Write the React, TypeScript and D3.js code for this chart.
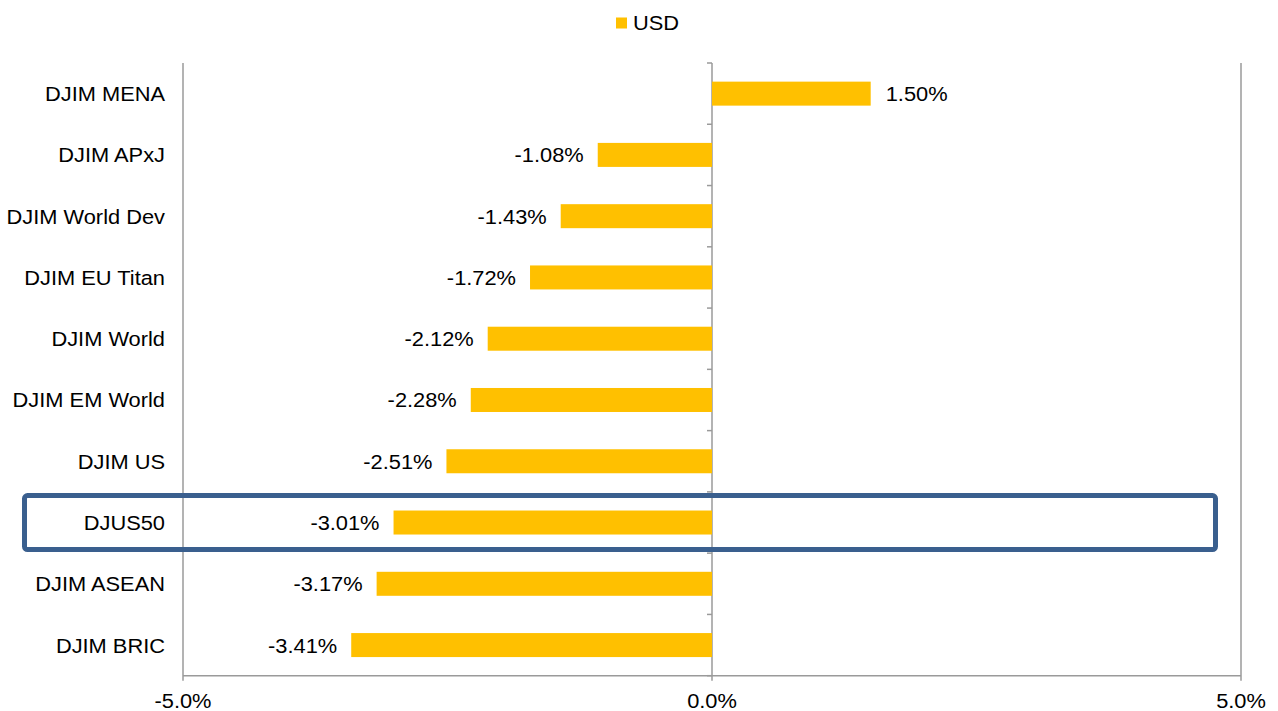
import React from "react";
import * as d3 from "d3";

const categories = [
  "DJIM MENA",
  "DJIM APxJ",
  "DJIM World Dev",
  "DJIM EU Titan",
  "DJIM World",
  "DJIM EM World",
  "DJIM US",
  "DJUS50",
  "DJIM ASEAN",
  "DJIM BRIC",
];
const usdValues = [1.5, -1.08, -1.43, -1.72, -2.12, -2.28, -2.51, -3.01, -3.17, -3.41];
const xTicks = [-5, 0, 5];
const seriesName = "USD";
const highlighted = "DJUS50";

const W = 1278;
const H = 711;
const FS = 19.5;
const SX = 1.12;
const FONT = "Arial, 'Liberation Sans', sans-serif";

function T({ x, y, anchor, children }: { x: number; y: number; anchor: string; children: React.ReactNode }) {
  return (
    <text
      transform={`translate(${x},${y}) scale(${SX},1)`}
      textAnchor={anchor}
      fontSize={FS}
      fontFamily={FONT}
      fill="#000"
    >
      {children}
    </text>
  );
}

export default function App() {
  const left = 183;
  const right = 1241;
  const top = 63;
  const bottom = 675.7;
  const x = d3.scaleLinear().domain([-5, 5]).range([left, right]);
  const y = d3.scaleBand<string>().domain(categories).range([top, bottom]).paddingInner(0).paddingOuter(0);
  const bw = y.bandwidth();
  const barH = 24;
  const grid = "#9a9a9a";
  const x0 = x(0);
  const hb = y(highlighted)!;

  return (
    <div style={{ position: "absolute", left: 0, top: 0 }}>
      <svg width={W} height={H} style={{ display: "block", background: "#fff" }}>
        {/* legend */}
        <rect x={616} y={17.5} width={11} height={11} fill="#FFC000" />
        <T x={633} y={29.5} anchor="start">{seriesName}</T>

        {/* gridlines */}
        {xTicks.map((t) => (
          <line key={t} x1={x(t)} x2={x(t)} y1={top} y2={bottom + 5} stroke={grid} strokeWidth={1.5} />
        ))}
        <line x1={left} x2={right} y1={bottom} y2={bottom} stroke={grid} strokeWidth={1.5} />
        {/* category ticks on zero axis */}
        {d3.range(categories.length + 1).map((i) => (
          <line key={i} x1={x0 - 5} x2={x0} y1={top + i * bw} y2={top + i * bw} stroke={grid} strokeWidth={1.5} />
        ))}

        {/* bars */}
        {categories.map((c, i) => {
          const v = usdValues[i];
          const cy = y(c)! + bw / 2;
          const xa = x(Math.min(0, v));
          const xb = x(Math.max(0, v));
          return (
            <g key={c}>
              <rect x={xa} y={cy - barH / 2} width={xb - xa} height={barH} fill="#FFC000" />
              <T x={165} y={cy + 7.5} anchor="end">{c}</T>
              <T x={v < 0 ? xa - 14 : xb + 15} y={cy + 7.5} anchor={v < 0 ? "end" : "start"}>
                {v.toFixed(2) + "%"}
              </T>
            </g>
          );
        })}

        {/* x tick labels */}
        {xTicks.map((t) => (
          <T key={t} x={x(t)} y={708} anchor="middle">{t.toFixed(1) + "%"}</T>
        ))}

        {/* highlight box */}
        <rect
          x={24.5}
          y={hb + bw / 2 - 27}
          width={1191}
          height={54}
          rx={3}
          fill="none"
          stroke="#3A5F8E"
          strokeWidth={5}
        />
      </svg>
    </div>
  );
}
